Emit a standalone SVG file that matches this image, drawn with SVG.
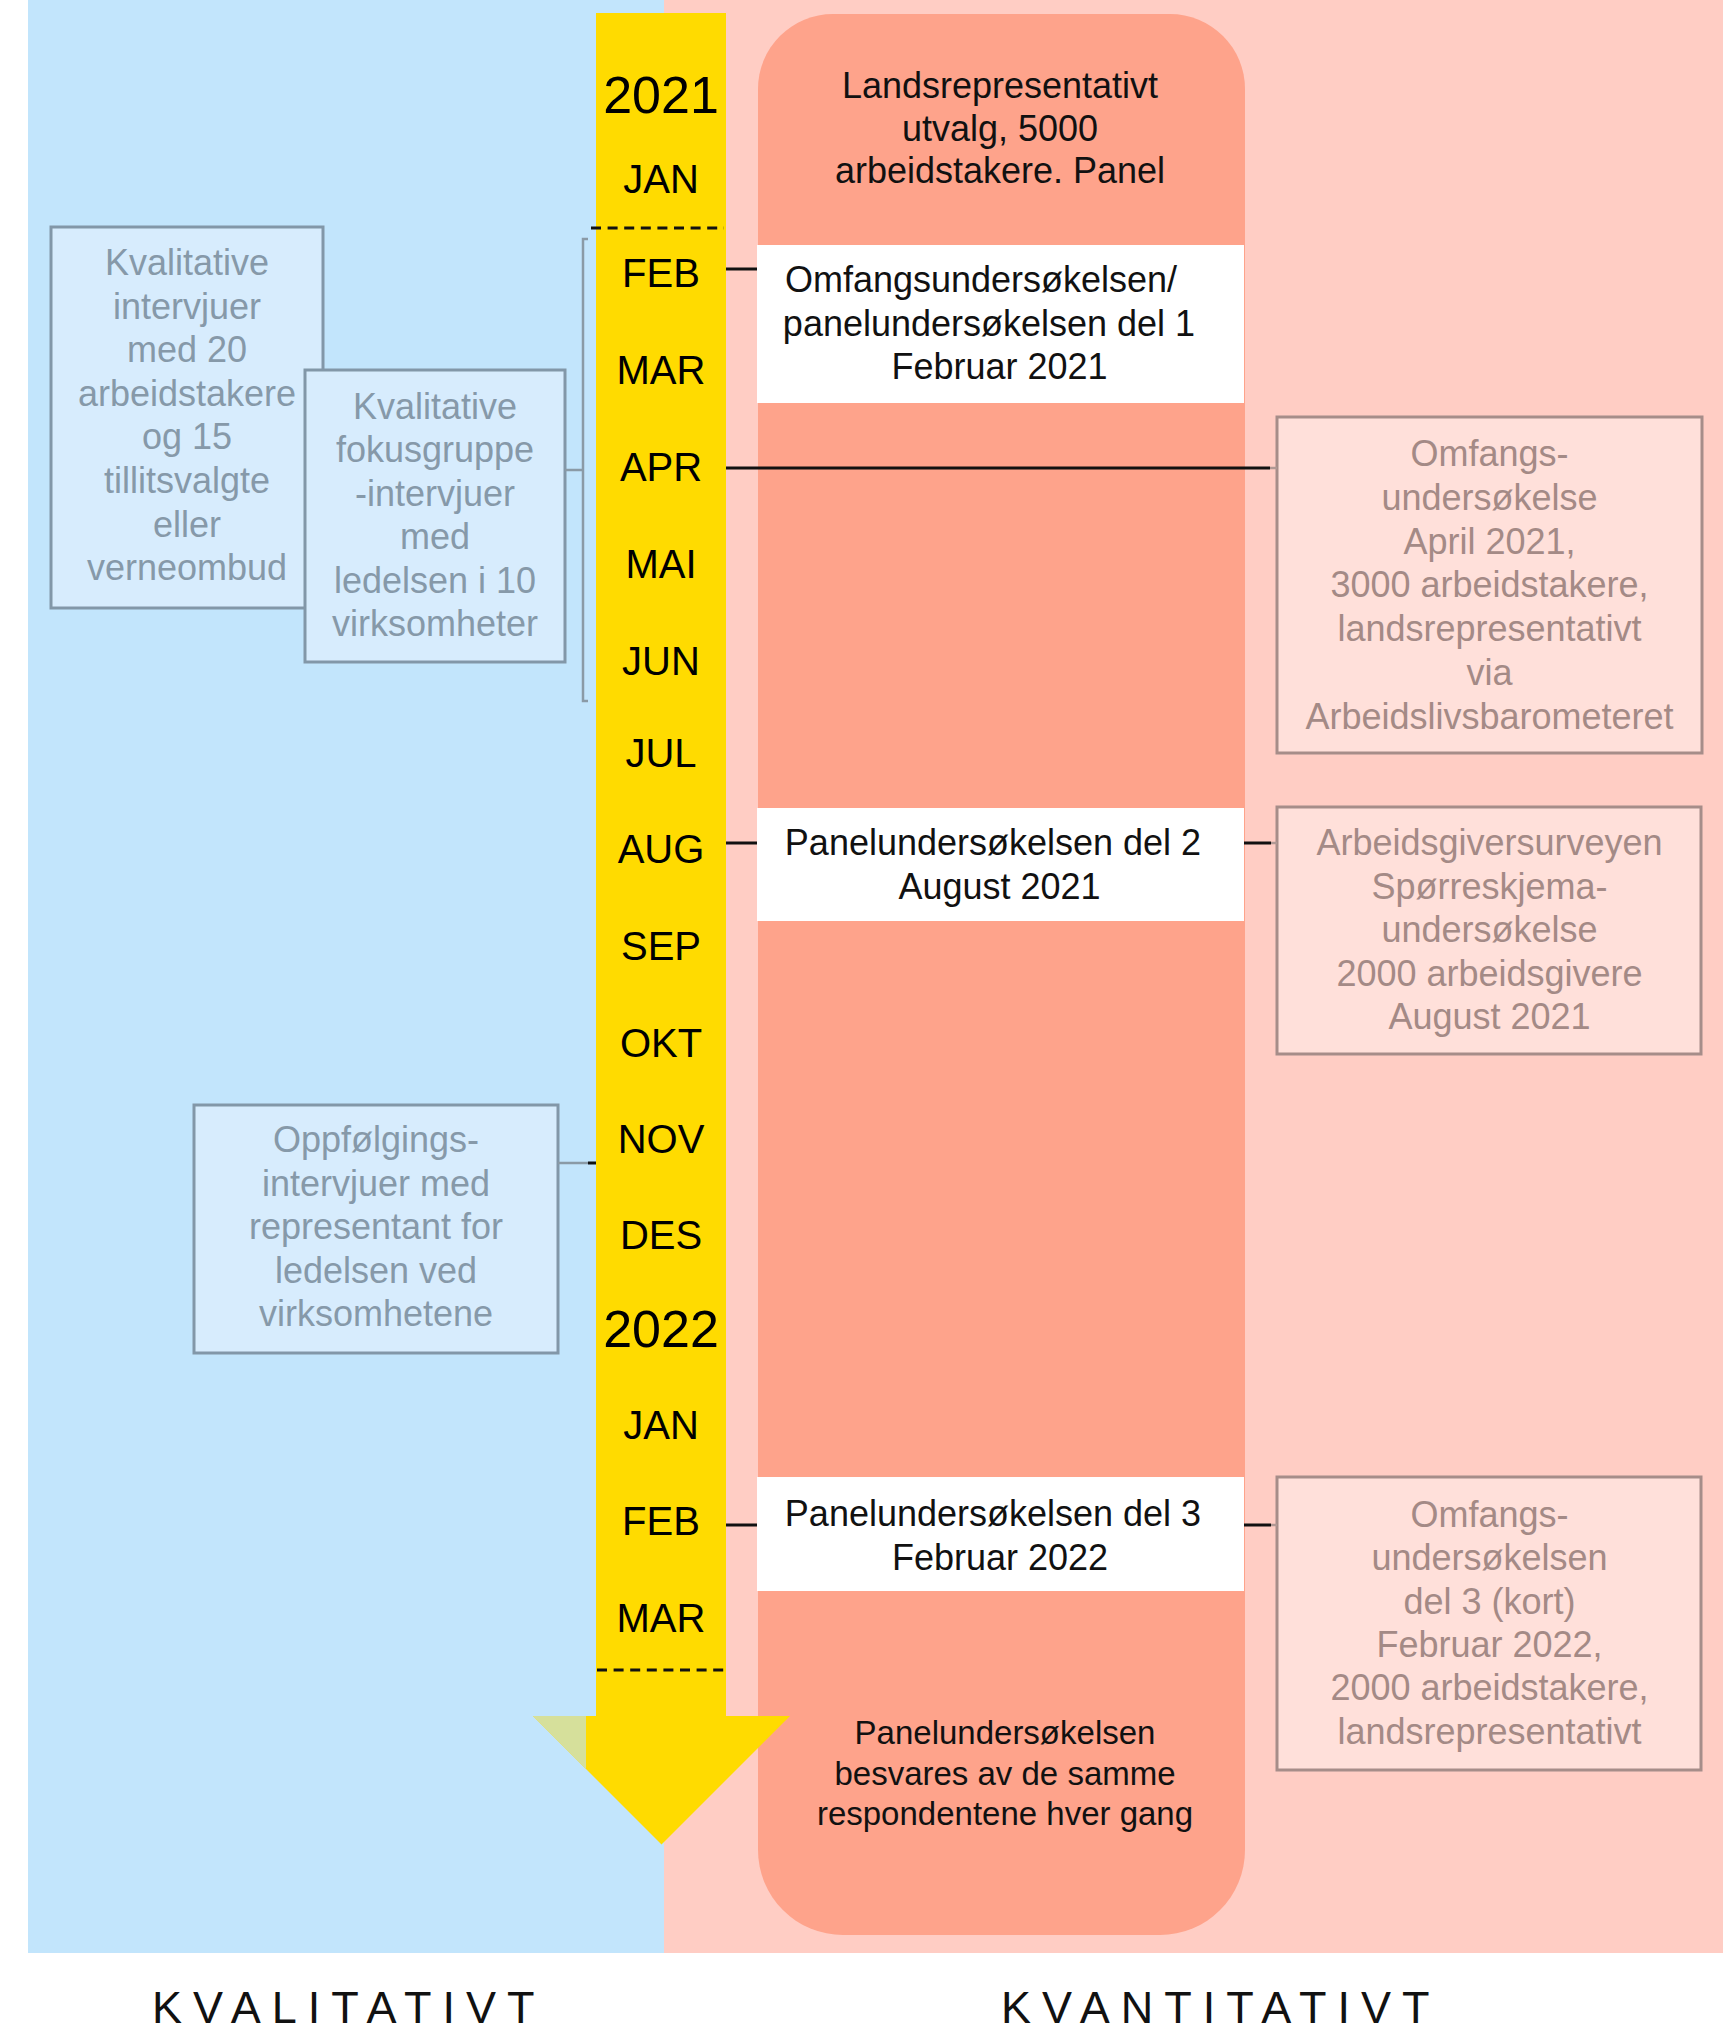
<svg xmlns="http://www.w3.org/2000/svg" width="1735" height="2031" viewBox="0 0 1735 2031">
<style>
text{font-family:'Liberation Sans',Arial,Helvetica,sans-serif}
.m{font-size:40px;text-anchor:middle;fill:#000}
.yr{font-size:52px}
.t{font-size:36px;text-anchor:middle;fill:#111}
.s{font-size:33px}
.gl{fill:#8699a9}
.gr{fill:#a48a86}
.lab{font-size:45px;letter-spacing:11px;fill:#111}
.lb{fill:#d7ecfd;stroke:#8297a8;stroke-width:3}
.rb{fill:#ffe0da;stroke:#a68d89;stroke-width:3}
.wb{fill:#fff}
.k{stroke:#111;stroke-width:3;fill:none}
.g{stroke:#8a9aa6;stroke-width:2.5;fill:none}
.gp{stroke:#b09894;stroke-width:2.5;fill:none}
.d{stroke:#111;stroke-width:3;stroke-dasharray:10 6.6;fill:none}
</style>
<rect width="1735" height="2031" fill="#fff"/>
<g id="background">
<rect x="28" y="0" width="636" height="1953" fill="#c2e5fc"/>
<rect x="664" y="0" width="1059" height="1953" fill="#ffcdc4"/>
</g>
<g id="panel-column">
<path d="M758,89 A75,75 0 0 1 833,14 L1170,14 A75,75 0 0 1 1245,89 L1245,1850 A85,85 0 0 1 1160,1935 L843,1935 A85,85 0 0 1 758,1850 Z" fill="#fea38b"/>
<text class="t" x="1000" y="98">Landsrepresentativt</text>
<text class="t" x="1000" y="141">utvalg, 5000</text>
<text class="t" x="1000" y="183">arbeidstakere. Panel</text>
<text class="t s" x="1005" y="1743.5">Panelundersøkelsen</text>
<text class="t s" x="1005" y="1784.5">besvares av de samme</text>
<text class="t s" x="1005" y="1824.5">respondentene hver gang</text>
</g>
<g id="timeline">
<rect x="596" y="13" width="130" height="1704" fill="#ffdb00"/>
<polygon points="533,1716 790,1716 661.5,1844.5" fill="#ffdb00"/>
<polygon points="533,1716 586,1716 586,1769" fill="#d6e09b"/>
<line class="d" x1="591" y1="228" x2="724" y2="228"/>
<line class="d" x1="597" y1="1670" x2="729" y2="1670"/>
<text class="m yr" x="661" y="112.7">2021</text>
<text class="m" x="661" y="192.7">JAN</text>
<text class="m" x="661" y="287">FEB</text>
<text class="m" x="661" y="384">MAR</text>
<text class="m" x="661" y="481">APR</text>
<text class="m" x="661" y="578">MAI</text>
<text class="m" x="661" y="675">JUN</text>
<text class="m" x="661" y="767">JUL</text>
<text class="m" x="661" y="863">AUG</text>
<text class="m" x="661" y="960">SEP</text>
<text class="m" x="661" y="1057">OKT</text>
<text class="m" x="661" y="1153">NOV</text>
<text class="m" x="661" y="1249">DES</text>
<text class="m yr" x="661" y="1347">2022</text>
<text class="m" x="661" y="1439">JAN</text>
<text class="m" x="661" y="1535">FEB</text>
<text class="m" x="661" y="1632">MAR</text>
</g>
<g id="panel-del1">
<rect class="wb" x="757" y="245" width="487" height="158"/>
<text class="t" x="981" y="292">Omfangsundersøkelsen/</text>
<text class="t" x="989" y="335.5">panelundersøkelsen del 1</text>
<text class="t" x="999.5" y="379">Februar 2021</text>
</g>
<g id="panel-del2">
<rect class="wb" x="757" y="808" width="487" height="113"/>
<text class="t" x="993" y="855">Panelundersøkelsen del 2</text>
<text class="t" x="999.5" y="899">August 2021</text>
</g>
<g id="panel-del3">
<rect class="wb" x="757" y="1477" width="487" height="114"/>
<text class="t" x="993" y="1526">Panelundersøkelsen del 3</text>
<text class="t" x="1000" y="1570">Februar 2022</text>
</g>
<g id="kval-intervjuer">
<rect class="lb" x="51" y="227" width="272" height="381"/>
<text class="t gl" x="187" y="275">Kvalitative</text>
<text class="t gl" x="187" y="318.6">intervjuer</text>
<text class="t gl" x="187" y="362.2">med 20</text>
<text class="t gl" x="187" y="405.8">arbeidstakere</text>
<text class="t gl" x="187" y="449.4">og 15</text>
<text class="t gl" x="187" y="493">tillitsvalgte</text>
<text class="t gl" x="187" y="536.6">eller</text>
<text class="t gl" x="187" y="580.2">verneombud</text>
</g>
<g id="kval-fokusgruppe">
<rect class="lb" x="305" y="370" width="260" height="292"/>
<text class="t gl" x="435" y="418.5">Kvalitative</text>
<text class="t gl" x="435" y="462">fokusgruppe</text>
<text class="t gl" x="435" y="505.5">-intervjuer</text>
<text class="t gl" x="435" y="549">med</text>
<text class="t gl" x="435" y="592.5">ledelsen i 10</text>
<text class="t gl" x="435" y="636">virksomheter</text>
</g>
<g id="oppfolging">
<rect class="lb" x="194" y="1105" width="364" height="248"/>
<text class="t gl" x="376" y="1152">Oppfølgings-</text>
<text class="t gl" x="376" y="1195.5">intervjuer med</text>
<text class="t gl" x="376" y="1239">representant for</text>
<text class="t gl" x="376" y="1282.5">ledelsen ved</text>
<text class="t gl" x="376" y="1326">virksomhetene</text>
</g>
<g id="omfang-april">
<rect class="rb" x="1277" y="417" width="425" height="336"/>
<text class="t gr" x="1489.5" y="466">Omfangs-</text>
<text class="t gr" x="1489.5" y="510">undersøkelse</text>
<text class="t gr" x="1489.5" y="553.5">April 2021,</text>
<text class="t gr" x="1489.5" y="597">3000 arbeidstakere,</text>
<text class="t gr" x="1489.5" y="641">landsrepresentativt</text>
<text class="t gr" x="1489.5" y="684.5">via</text>
<text class="t gr" x="1489.5" y="728.5">Arbeidslivsbarometeret</text>
</g>
<g id="arbeidsgiversurvey">
<rect class="rb" x="1277" y="807" width="424" height="247"/>
<text class="t gr" x="1489.5" y="855">Arbeidsgiversurveyen</text>
<text class="t gr" x="1489.5" y="898.6">Spørreskjema-</text>
<text class="t gr" x="1489.5" y="942.2">undersøkelse</text>
<text class="t gr" x="1489.5" y="985.8">2000 arbeidsgivere</text>
<text class="t gr" x="1489.5" y="1029.4">August 2021</text>
</g>
<g id="omfang-del3">
<rect class="rb" x="1277" y="1477" width="424" height="293"/>
<text class="t gr" x="1489.5" y="1527">Omfangs-</text>
<text class="t gr" x="1489.5" y="1570.3">undersøkelsen</text>
<text class="t gr" x="1489.5" y="1613.6">del 3 (kort)</text>
<text class="t gr" x="1489.5" y="1656.9">Februar 2022,</text>
<text class="t gr" x="1489.5" y="1700.2">2000 arbeidstakere,</text>
<text class="t gr" x="1489.5" y="1743.5">landsrepresentativt</text>
</g>
<g id="connectors">
<line class="k" x1="726" y1="269" x2="757" y2="269"/>
<line class="k" x1="726" y1="468" x2="1270" y2="468"/>
<line class="gp" x1="1270" y1="468" x2="1277" y2="468"/>
<line class="k" x1="726" y1="843" x2="757" y2="843"/>
<line class="k" x1="1244" y1="843" x2="1271" y2="843"/>
<line class="gp" x1="1271" y1="843" x2="1277" y2="843"/>
<line class="k" x1="726" y1="1525" x2="757" y2="1525"/>
<line class="k" x1="1244" y1="1525" x2="1271" y2="1525"/>
<line class="gp" x1="1271" y1="1525" x2="1277" y2="1525"/>
<line class="g" x1="558" y1="1163" x2="588" y2="1163"/>
<line class="k" x1="588" y1="1163" x2="596" y2="1163"/>
<path class="g" d="M588,239 L583,239 L583,701 L588,701"/>
<line class="g" x1="565" y1="470" x2="583" y2="470"/>
</g>
<g id="labels">
<text class="lab" x="152" y="2023">KVALITATIVT</text>
<text class="lab" x="1001" y="2023">KVANTITATIVT</text>
</g>
</svg>
